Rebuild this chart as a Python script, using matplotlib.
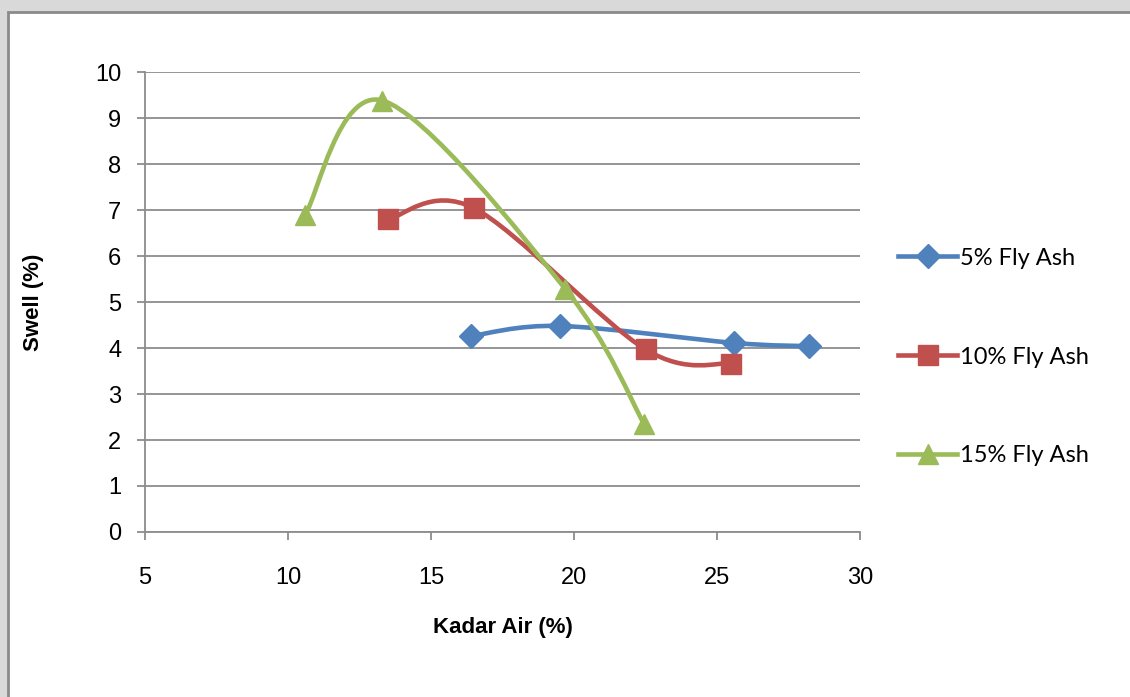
import matplotlib.pyplot as plt
import numpy as np
from matplotlib.path import Path
from matplotlib.patches import PathPatch, Rectangle
from matplotlib.lines import Line2D

# Data
kadar_5 = [16.4, 19.5, 25.6, 28.2]
swell_5 = [4.26, 4.48, 4.11, 4.04]

kadar_10 = [13.5, 16.5, 22.5, 25.5]
swell_10 = [6.80, 7.04, 3.97, 3.66]

kadar_15 = [10.6, 13.3, 19.7, 22.45]
swell_15 = [6.90, 9.38, 5.28, 2.35]

labels = ['5% Fly Ash', '10% Fly Ash', '15% Fly Ash']
colors = ['#4F81BD', '#C0504D', '#9BBB59']
markers = ['D', 's', '^']
msizes = [12.5, 14.5, 14]

plt.rcParams['font.family'] = ['Liberation Sans', 'DejaVu Sans']


def smooth_path(x, y):
    """Excel-like smoothed line: Catmull-Rom converted to cubic Bezier segments."""
    pts = np.column_stack([x, y]).astype(float)
    n = len(pts)
    verts = [pts[0]]
    codes = [Path.MOVETO]
    for i in range(n - 1):
        p0 = pts[i - 1] if i > 0 else pts[i]
        p1 = pts[i]
        p2 = pts[i + 1]
        p3 = pts[i + 2] if i + 2 < n else pts[i + 1]
        c1 = p1 + (p2 - p0) / 6.0
        c2 = p2 - (p3 - p1) / 6.0
        verts += [c1, c2, p2]
        codes += [Path.CURVE4] * 3
    return Path(verts, codes)


fig = plt.figure(figsize=(11.3, 6.97), dpi=100)
fig.patch.set_facecolor('#d9d9d9')
# chart area frame
frame = Rectangle((8 / 1130, -0.01), 1.0, 1.01 - 12 / 697, transform=fig.transFigure,
                  facecolor='white', edgecolor='#8a8a8a', linewidth=2.0, zorder=-10)
fig.add_artist(frame)

ax = fig.add_axes([145 / 1130, 1 - 532 / 697, 715 / 1130, 460 / 697])
ax.set_zorder(1)
ax.set_facecolor('white')

series = [(kadar_5, swell_5), (kadar_10, swell_10), (kadar_15, swell_15)]
for (xs, ys), c, m, ms in zip(series, colors, markers, msizes):
    ax.add_patch(PathPatch(smooth_path(xs, ys), facecolor='none', edgecolor=c,
                           linewidth=3.3, capstyle='round', joinstyle='round', zorder=3))
    ax.plot(xs, ys, linestyle='none', marker=m, markersize=ms, color=c, zorder=4)

ax.set_xlim(5, 30)
ax.set_ylim(0, 10)
ax.set_xticks(range(5, 31, 5))
ax.set_yticks(range(0, 11, 1))
ax.yaxis.grid(True, color='#8c8c8c', linewidth=1.3)
ax.set_axisbelow(True)
for s in ['top', 'right']:
    ax.spines[s].set_visible(False)
for s in ['left', 'bottom']:
    ax.spines[s].set_color('#8c8c8c')
    ax.spines[s].set_linewidth(1.3)
ax.tick_params(axis='both', colors='#8c8c8c', labelcolor='black', labelsize=17,
               length=6, width=1.3)
ax.tick_params(axis='x', pad=19)
ax.tick_params(axis='y', pad=11)

ax.set_xlabel('Kadar Air (%)', fontsize=16, fontweight='bold', labelpad=20)
ax.set_ylabel('Swell (%)', fontsize=16, fontweight='bold', labelpad=37)

handles = [Line2D([], [], color=c, marker=m, markersize=ms, linewidth=3.3)
           for c, m, ms in zip(colors, markers, msizes)]
fig.legend(handles, labels, loc='center left', bbox_to_anchor=(889 / 1130, 1 - 357 / 697),
           frameon=False, prop={'family': ['Lato', 'DejaVu Sans'], 'size': 17},
           handlelength=2.5, handletextpad=0.1, labelspacing=3.3, borderaxespad=0)

fig.savefig('out.png', dpi=100, facecolor=fig.get_facecolor())
